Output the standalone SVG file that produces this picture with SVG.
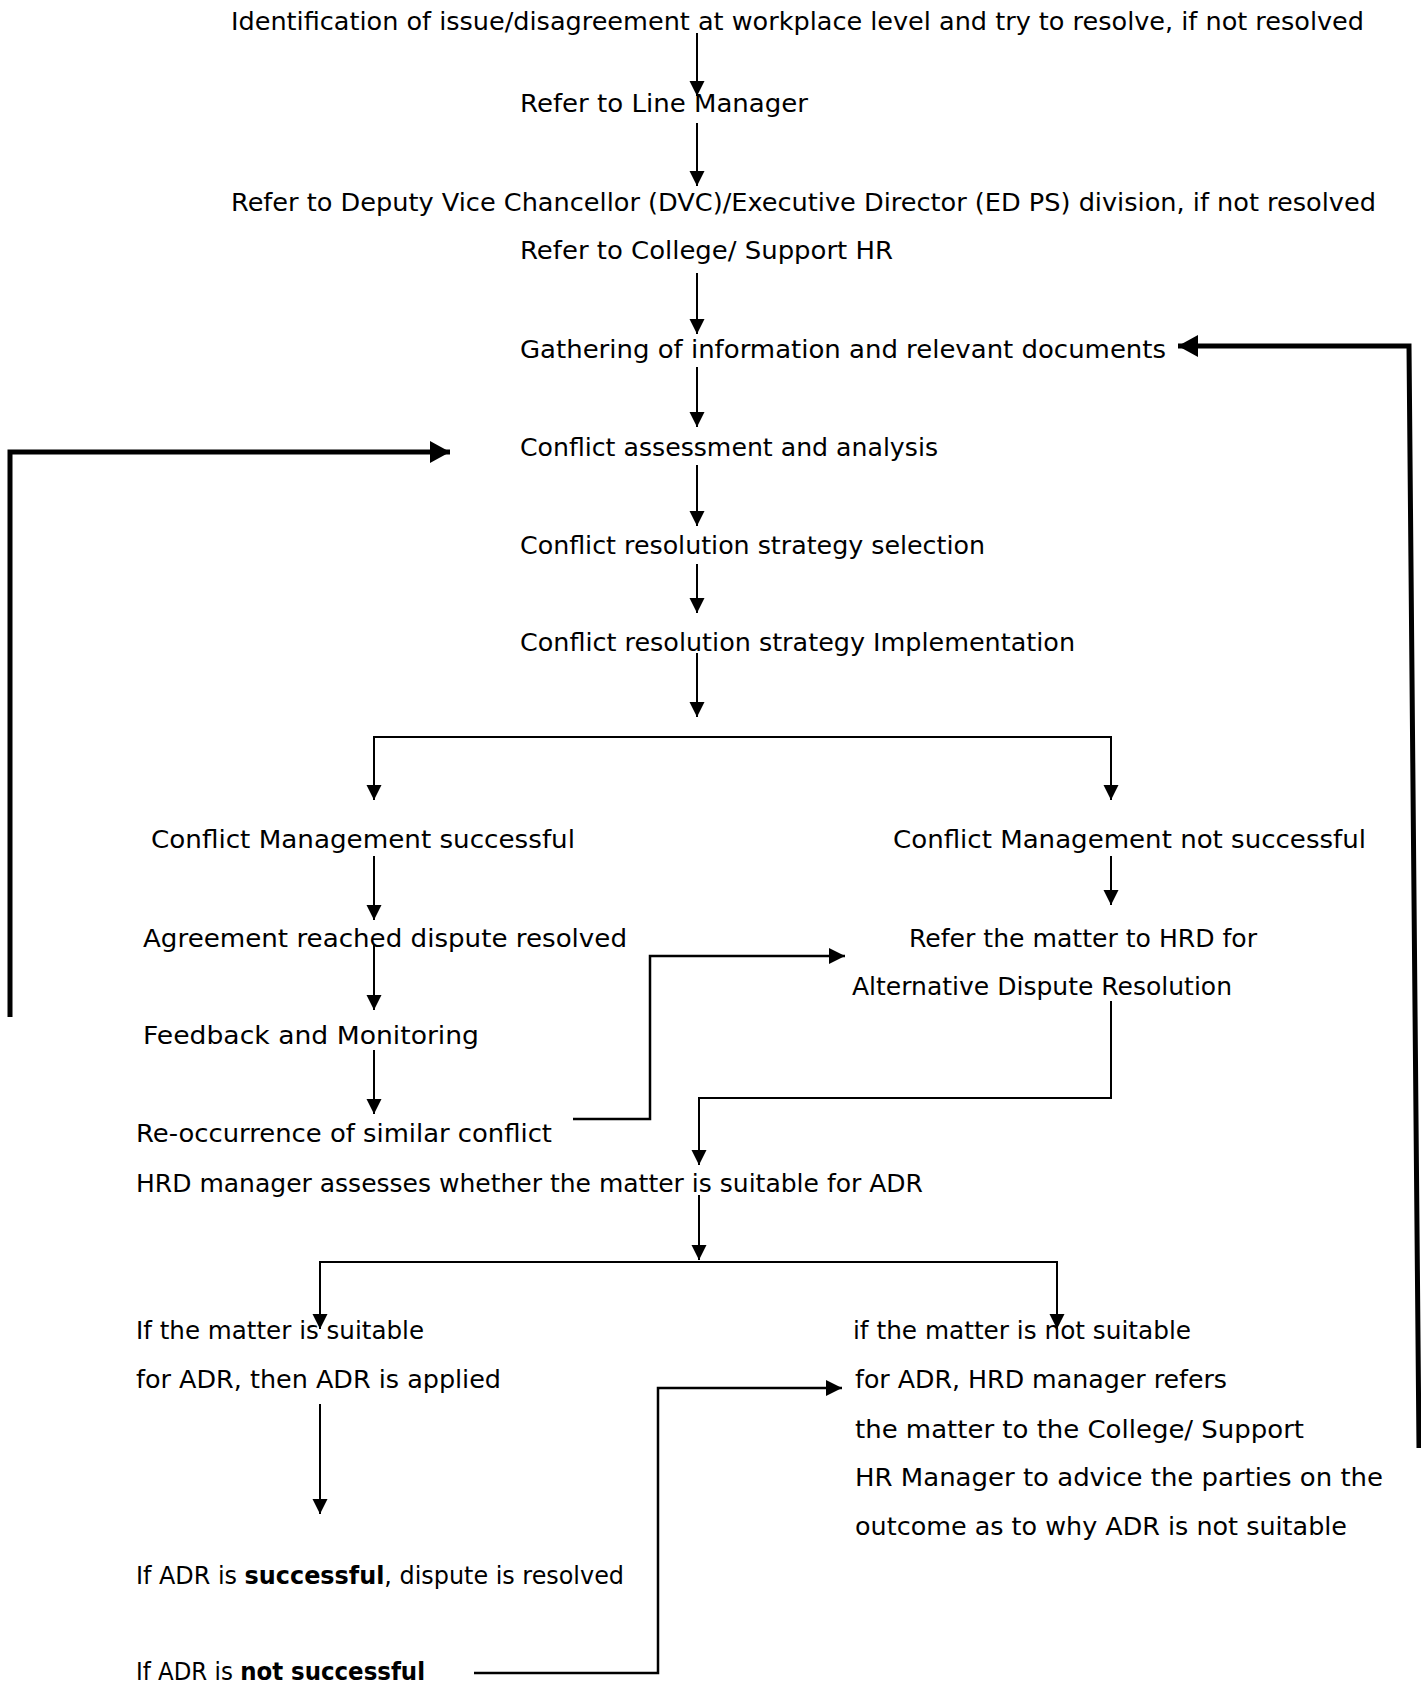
<svg xmlns="http://www.w3.org/2000/svg" width="1421" height="1684" viewBox="0 0 1421 1684">
<style>
text{font-family:"DejaVu Sans","Liberation Sans",sans-serif;font-size:24px;fill:#000}
.b{font-weight:bold}
.t{fill:none;stroke:#000;stroke-width:2}
.m{fill:none;stroke:#000;stroke-width:2.5}
.k{fill:none;stroke:#000;stroke-width:5}
</style>
<defs>
<marker id="ah" markerUnits="userSpaceOnUse" markerWidth="18" markerHeight="18" refX="15" refY="7.5" orient="auto"><path d="M0,0 L15,7.5 L0,15 z" fill="#000"/></marker>
<marker id="ahm" markerUnits="userSpaceOnUse" markerWidth="18" markerHeight="18" refX="16" refY="8" orient="auto"><path d="M0,0 L16,8 L0,16 z" fill="#000"/></marker>
<marker id="ahk" markerUnits="userSpaceOnUse" markerWidth="24" markerHeight="26" refX="20" refY="11" orient="auto"><path d="M0,0 L20,11 L0,22 z" fill="#000"/></marker>
</defs>
<rect width="1421" height="1684" fill="#fff"/>
<g id="connectors">
<line class="t" x1="697" y1="33" x2="697" y2="96" marker-end="url(#ah)"/>
<line class="t" x1="697" y1="123" x2="697" y2="186" marker-end="url(#ah)"/>
<line class="t" x1="697" y1="273" x2="697" y2="334" marker-end="url(#ah)"/>
<line class="t" x1="697" y1="367" x2="697" y2="427" marker-end="url(#ah)"/>
<line class="t" x1="697" y1="465" x2="697" y2="526" marker-end="url(#ah)"/>
<line class="t" x1="697" y1="564" x2="697" y2="613" marker-end="url(#ah)"/>
<line class="t" x1="697" y1="653" x2="697" y2="717" marker-end="url(#ah)"/>
<polyline class="t" points="374,800 374,737 1111,737 1111,800"/>
<line class="t" x1="374" y1="737" x2="374" y2="800" marker-end="url(#ah)"/>
<line class="t" x1="1111" y1="737" x2="1111" y2="800" marker-end="url(#ah)"/>
<line class="t" x1="374" y1="856" x2="374" y2="920" marker-end="url(#ah)"/>
<line class="t" x1="374" y1="945" x2="374" y2="1010" marker-end="url(#ah)"/>
<line class="t" x1="374" y1="1050" x2="374" y2="1114" marker-end="url(#ah)"/>
<line class="t" x1="1111" y1="856" x2="1111" y2="905" marker-end="url(#ah)"/>
<polyline class="t" points="1111,1001 1111,1098 699,1098 699,1165" marker-end="url(#ah)"/>
<line class="t" x1="699" y1="1195" x2="699" y2="1260" marker-end="url(#ah)"/>
<polyline class="t" points="320,1329 320,1262 1057,1262 1057,1329"/>
<line class="t" x1="320" y1="1262" x2="320" y2="1329" marker-end="url(#ah)"/>
<line class="t" x1="1057" y1="1262" x2="1057" y2="1329" marker-end="url(#ah)"/>
<line class="t" x1="320" y1="1404" x2="320" y2="1514" marker-end="url(#ah)"/>
<polyline class="m" points="573,1119 650,1119 650,956 845,956" marker-end="url(#ahm)"/>
<polyline class="m" points="474,1673 658,1673 658,1388 842,1388" marker-end="url(#ahm)"/>
<polyline class="k" points="10,1017 10,452 450,452" marker-end="url(#ahk)"/>
<polyline class="k" points="1419,1448 1409,346 1178,346" marker-end="url(#ahk)"/>
</g>
<g id="n1"><text x="231" y="30" textLength="1133" lengthAdjust="spacingAndGlyphs">Identification of issue/disagreement at workplace level and try to resolve, if not resolved</text></g>
<g id="n2"><text x="520" y="112" textLength="288" lengthAdjust="spacingAndGlyphs">Refer to Line Manager</text></g>
<g id="n3"><text x="231" y="211" textLength="1145" lengthAdjust="spacingAndGlyphs">Refer to Deputy Vice Chancellor (DVC)/Executive Director (ED PS) division, if not resolved</text></g>
<g id="n4"><text x="520" y="259" textLength="373" lengthAdjust="spacingAndGlyphs">Refer to College/ Support HR</text></g>
<g id="n5"><text x="520" y="358" textLength="646" lengthAdjust="spacingAndGlyphs">Gathering of information and relevant documents</text></g>
<g id="n6"><text x="520" y="456" textLength="418" lengthAdjust="spacingAndGlyphs">Conflict assessment and analysis</text></g>
<g id="n7"><text x="520" y="554" textLength="465" lengthAdjust="spacingAndGlyphs">Conflict resolution strategy selection</text></g>
<g id="n8"><text x="520" y="651" textLength="555" lengthAdjust="spacingAndGlyphs">Conflict resolution strategy Implementation</text></g>
<g id="n9"><text x="151" y="848" textLength="424" lengthAdjust="spacingAndGlyphs">Conflict Management successful</text></g>
<g id="n10"><text x="893" y="848" textLength="473" lengthAdjust="spacingAndGlyphs">Conflict Management not successful</text></g>
<g id="n11"><text x="143" y="947" textLength="484" lengthAdjust="spacingAndGlyphs">Agreement reached dispute resolved</text></g>
<g id="n12"><text x="909" y="947" textLength="348" lengthAdjust="spacingAndGlyphs">Refer the matter to HRD for</text><text x="852" y="995" textLength="380" lengthAdjust="spacingAndGlyphs">Alternative Dispute Resolution</text></g>
<g id="n13"><text x="143" y="1044" textLength="336" lengthAdjust="spacingAndGlyphs">Feedback and Monitoring</text></g>
<g id="n14"><text x="136" y="1142" textLength="416" lengthAdjust="spacingAndGlyphs">Re-occurrence of similar conflict</text></g>
<g id="n15"><text x="136" y="1192" textLength="787" lengthAdjust="spacingAndGlyphs">HRD manager assesses whether the matter is suitable for ADR</text></g>
<g id="n16"><text x="136" y="1339" textLength="288" lengthAdjust="spacingAndGlyphs">If the matter is suitable</text><text x="136" y="1388" textLength="365" lengthAdjust="spacingAndGlyphs">for ADR, then ADR is applied</text></g>
<g id="n17"><text x="853" y="1339" textLength="338" lengthAdjust="spacingAndGlyphs">if the matter is not suitable</text><text x="855" y="1388" textLength="372" lengthAdjust="spacingAndGlyphs">for ADR, HRD manager refers</text><text x="855" y="1438" textLength="449" lengthAdjust="spacingAndGlyphs">the matter to the College/ Support</text><text x="855" y="1486" textLength="528" lengthAdjust="spacingAndGlyphs">HR Manager to advice the parties on the</text><text x="855" y="1535" textLength="492" lengthAdjust="spacingAndGlyphs">outcome as to why ADR is not suitable</text></g>
<g id="n18"><text x="136" y="1584" textLength="488" lengthAdjust="spacingAndGlyphs">If ADR is <tspan class="b">successful</tspan>, dispute is resolved</text></g>
<g id="n19"><text x="136" y="1680" textLength="289" lengthAdjust="spacingAndGlyphs">If ADR is <tspan class="b">not successful</tspan></text></g>
</svg>
